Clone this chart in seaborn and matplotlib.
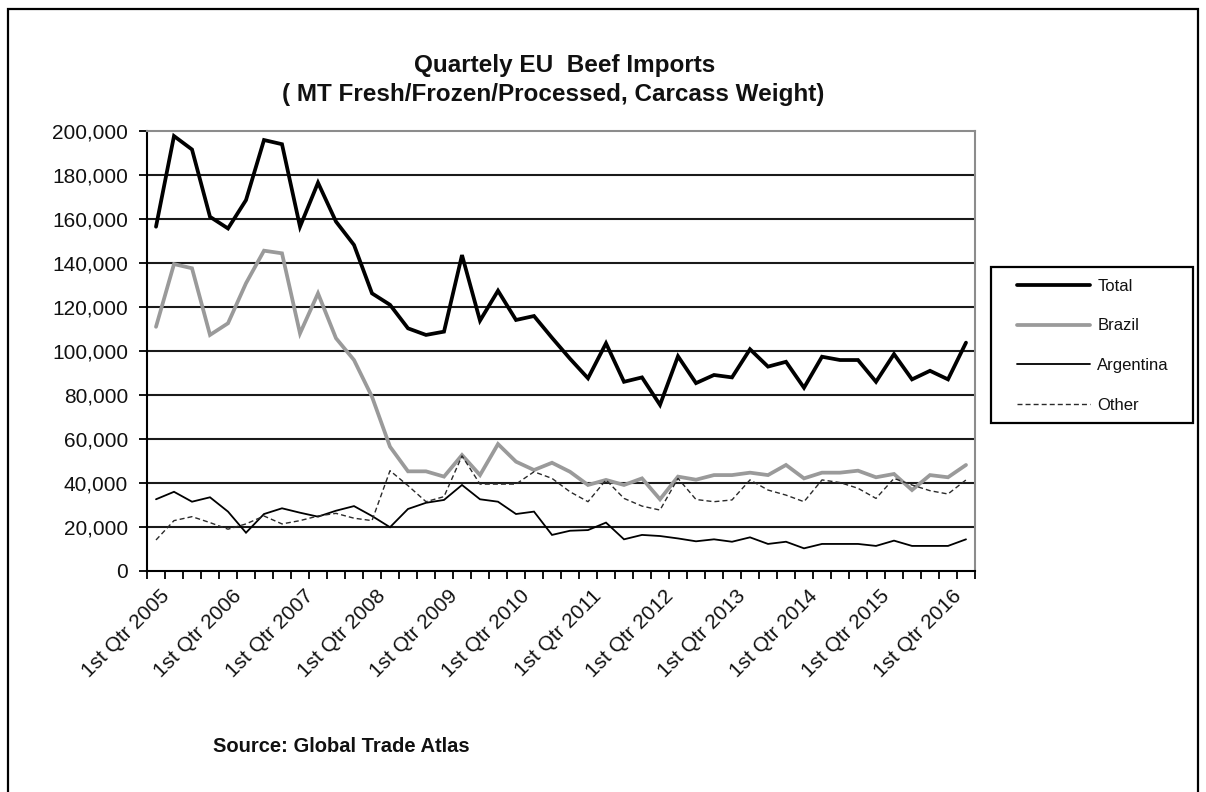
import matplotlib
matplotlib.use("Agg")
import matplotlib.pyplot as plt
from matplotlib.patches import Rectangle
from matplotlib.ticker import FuncFormatter, FixedLocator
from matplotlib.transforms import ScaledTranslation
import numpy as np
import pandas as pd
import seaborn as sns

# Quarterly EU beef imports, 1st Qtr 2005 .. 2nd Qtr 2016 (MT carcass weight)
years = list(range(2005, 2017))
quarters = [f"{q} Qtr {y}" for y in years for q in ("1st", "2nd", "3rd", "4th")][:46]

total = [156500, 197700, 191600, 161000, 155700, 168600, 195900, 194000,
         156500, 176500, 158800, 148200, 126200, 121000, 110300, 107300,
         108800, 143600, 113800, 127400, 114100, 115900, 106000, 96500,
         87600, 103500, 86000, 88000, 75500, 97600, 85400, 89100,
         88000, 100800, 92900, 95100, 83300, 97400, 95900, 95900,
         86000, 98600, 87100, 91000, 87100, 103800]
brazil = [111000, 139500, 137600, 107300, 112600, 130800, 145600, 144400,
          108000, 126200, 105800, 95900, 79200, 56500, 45300, 45300,
          42900, 52700, 43600, 57700, 49700, 45900, 49200, 45100,
          39100, 41400, 39100, 42100, 32600, 42900, 41500, 43600,
          43600, 44700, 43600, 48200, 42100, 44700, 44700, 45600,
          42600, 44100, 36800, 43600, 42600, 48200]
argentina = [32600, 36000, 31500, 33500, 27000, 17400, 25900, 28500,
             26500, 24700, 27400, 29500, 25000, 19900, 28200, 31000,
             32300, 39100, 32600, 31500, 25900, 27000, 16400, 18300,
             18600, 22000, 14400, 16400, 15900, 14800, 13500, 14400,
             13300, 15300, 12300, 13300, 10300, 12300, 12300, 12300,
             11400, 13800, 11400, 11400, 11400, 14400]
other = [14100, 22900, 24700, 22000, 19000, 21400, 25000, 21400,
         22900, 25000, 26200, 24000, 22900, 45600, 38800, 31500,
         33800, 52300, 39500, 39500, 39500, 45100, 42100, 36000,
         31500, 41400, 33000, 29500, 27700, 42100, 32500, 31500,
         32300, 41400, 36800, 34500, 31500, 41400, 40200, 37600,
         33000, 42100, 39100, 36500, 35000, 41400]

series_names = ["Total", "Brazil", "Argentina", "Other"]
series_values = [total, brazil, argentina, other]
series_colors = ["#000000", "#9a9a9a", "#000000", "#2a2a2a"]
series_widths = [2.7, 2.7, 1.3, 1.0]

sns.set_theme(style="white")
plt.rcParams["font.family"] = ["Liberation Sans", "DejaVu Sans"]

W, H = 1206, 792
fig = plt.figure(figsize=(W / 100, H / 100), dpi=100)
ax = fig.add_axes([147 / W, 1 - 571 / H, (975 - 147) / W, (571 - 131) / H])

idx = np.arange(len(quarters))
lines = []
for name, vals, col, lw in zip(series_names, series_values, series_colors, series_widths):
    df = pd.DataFrame({"q": idx, "v": vals})
    sns.lineplot(data=df, x="q", y="v", color=col, linewidth=lw, ax=ax,
                 label=name, legend=False)
    ln = ax.get_lines()[-1]
    ln.set_solid_joinstyle("miter")
    if name == "Other":
        ln.set_dashes([3.6, 2.2])
    lines.append(ln)

ax.set_xlim(-0.5, len(quarters) - 0.5)
ax.set_ylim(0, 200000)

# horizontal gridlines every 20,000
yt = np.arange(0, 200001, 20000)
ax.set_yticks(yt)
ax.yaxis.set_major_formatter(FuncFormatter(lambda v, p: f"{int(v):,}"))
for v in yt[1:-1]:
    ax.axhline(v, color="#1a1a1a", linewidth=1.5, zorder=0.5)

# category boundaries carry the tick marks; labels every 4th quarter
ax.xaxis.set_minor_locator(FixedLocator(np.arange(-0.5, len(quarters), 1.0)))
label_pos = list(range(0, len(quarters), 4))
ax.set_xticks(label_pos)
ax.set_xticklabels([quarters[i] for i in label_pos], rotation=45, ha="right",
                   va="top", rotation_mode="anchor")
ax.tick_params(axis="x", which="major", length=0, pad=11, labelsize=15,
               labelcolor="#111111")
ax.tick_params(axis="x", which="minor", length=5.5, width=1.3, color="black",
               direction="out", bottom=True)
ax.tick_params(axis="y", which="major", length=5.5, width=1.3, color="black",
               direction="out", left=True, pad=8, labelsize=15,
               labelcolor="#111111")
shift = ScaledTranslation(4 / 100, 0, fig.dpi_scale_trans)
for lab in ax.get_xticklabels():
    lab.set_transform(lab.get_transform() + shift)
ax.set_xlabel("")
ax.set_ylabel("")

for side in ("left", "bottom"):
    ax.spines[side].set_color("black")
    ax.spines[side].set_linewidth(1.5)
for side in ("top", "right"):
    ax.spines[side].set_color("#8c8c8c")
    ax.spines[side].set_linewidth(1.5)

fig.text(565 / W, 1 - 72 / H, "Quartely EU  Beef Imports", ha="center",
         va="baseline", fontsize=17.5, fontweight="bold", color="#111111")
fig.text(553 / W, 1 - 101 / H, "( MT Fresh/Frozen/Processed, Carcass Weight)",
         ha="center", va="baseline", fontsize=17.5, fontweight="bold", color="#111111")
fig.text(213 / W, 1 - 752 / H, "Source: Global Trade Atlas", ha="left",
         va="baseline", fontsize=14.5, fontweight="bold", color="#111111")

# legend: frame drawn separately, entries placed inside it
fig.patches.append(Rectangle((991 / W, 1 - 423 / H), (1193 - 991) / W, (423 - 267) / H,
                             transform=fig.transFigure, fill=False,
                             edgecolor="black", linewidth=1.6))
leg = fig.legend(lines, series_names, loc="upper left",
                 bbox_to_anchor=(1017 / W, 1 - 279 / H), frameon=False,
                 fontsize=12, handlelength=4.4, handletextpad=0.42,
                 labelspacing=1.47, borderpad=0, borderaxespad=0)
for t in leg.get_texts():
    t.set_color("#111111")

# outer frame around the whole chart
fig.patches.append(Rectangle((8 / W, -0.02), (1198 - 8) / W, 1 - 9 / H + 0.02,
                             transform=fig.transFigure, fill=False,
                             edgecolor="black", linewidth=1.6))

fig.savefig("out.png", dpi=100)
